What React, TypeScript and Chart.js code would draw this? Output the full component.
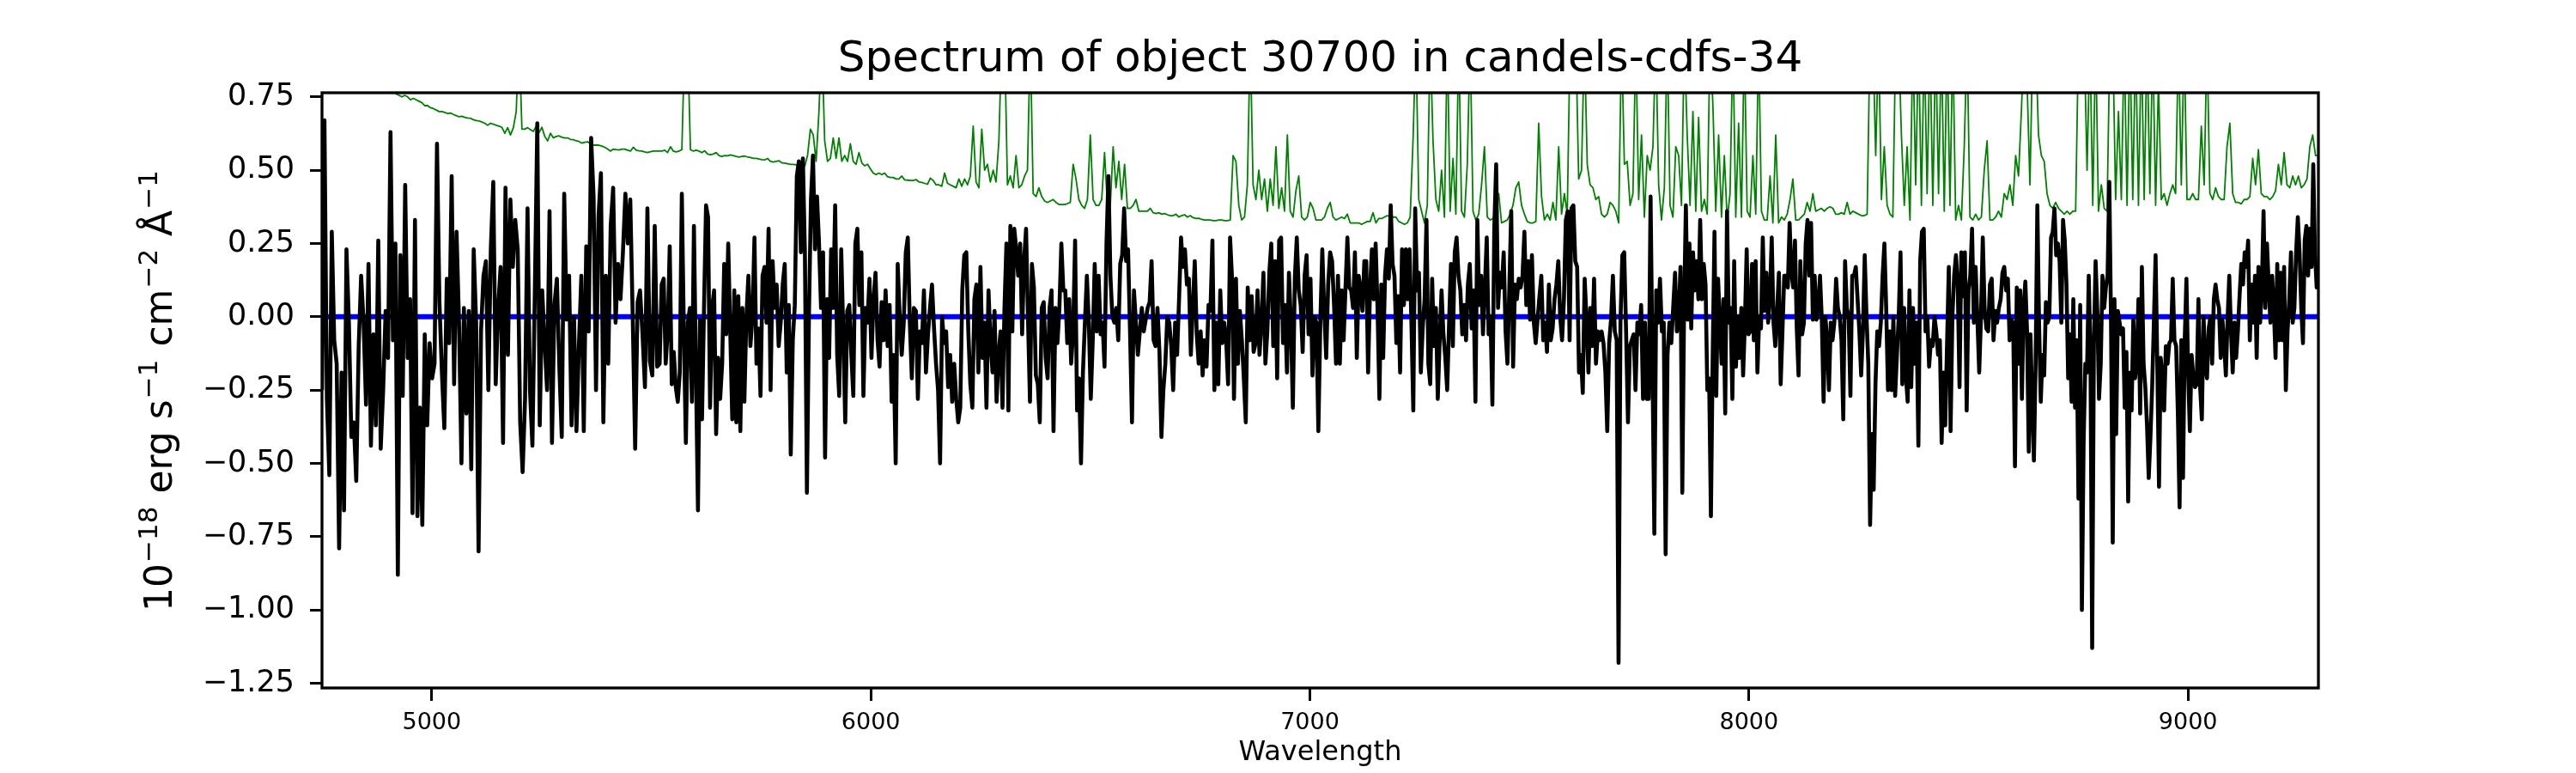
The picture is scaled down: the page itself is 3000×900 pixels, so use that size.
import { useEffect, useRef } from "react";
import { Chart, registerables } from "chart.js";

Chart.register(...registerables);

const TITLE = "Spectrum of object 30700 in candels-cdfs-34";
const X_LABEL = "Wavelength";
const Y_LABEL_PARTS = [
  { text: "10", sup: false },
  { text: "\u221218", sup: true },
  { text: " erg s", sup: false },
  { text: "\u22121", sup: true },
  { text: " cm", sup: false },
  { text: "\u22122", sup: true },
  { text: " \u00c5", sup: false },
  { text: "\u22121", sup: true },
];

const X_MIN = 4750;
const X_MAX = 9297;
const Y_MIN = -1.266;
const Y_MAX = 0.764;
const X_TICKS = [5000, 6000, 7000, 8000, 9000];
const Y_TICKS = [-1.25, -1.0, -0.75, -0.5, -0.25, 0, 0.25, 0.5, 0.75];
const ZERO_LEVEL = 0;

// wavelength edges of the pieces of the flux spectrum (Angstrom)
const FLUX_EDGES = [4750, 5519, 6291, 7064, 7836, 8610, 9297];

const FLUX_A = [
  -0.25, 0.67, -0.28, -0.54, 0.29, -0.08, -0.16, -0.79, -0.19, -0.66,
  0.23, -0.02, -0.41, -0.36, -0.56, -0.10, 0.14, -0.02, -0.30, 0.18,
  -0.44, -0.06, -0.37, 0.26, -0.45, -0.25, 0.02, -0.14, 0.63, -0.08,
  0.25, -0.88, 0.21, -0.27, 0.45, -0.14, 0.06, -0.67, 0.33, -0.68,
  -0.31, -0.71, -0.06, -0.37, -0.09, -0.21, -0.16, 0.59, 0.05, -0.19,
  -0.38, 0.13, -0.09, 0.48, -0.23, 0.29, -0.02, -0.50, 0.03, -0.33,
  0.02, -0.52, 0.23, -0.02, -0.80, -0.05, 0.14, 0.19, -0.25, 0.23,
  0.46, -0.23, 0.03, 0.17, -0.43, 0.44, -0.13, 0.40, 0.17, 0.33,
  0.23, -0.36, -0.53, -0.28, 0.37, -0.25, -0.44, 0.09, 0.66, -0.37,
  0.09, -0.09, -0.25, 0.36, -0.43, 0.04, 0.13, -0.17, -0.41, 0.42,
  -0.01, 0.14, -0.37, 0.00, -0.39, -0.10, 0.14, -0.39, 0.24, -0.05,
  0.61, 0.41, -0.25, 0.34, 0.49, -0.36, 0.14, -0.16, 0.31, 0.44,
  -0.02, 0.18, 0.06, 0.22, 0.42, 0.25, 0.40, 0.00, -0.45, 0.05,
  0.09, -0.06, -0.24, 0.37, -0.15, -0.20, 0.31, -0.17,
];

const FLUX_B = [
  -0.16, 0.11, 0.13, -0.16, -0.05, 0.24, -0.23, -0.12, -0.24, -0.29,
  -0.19, 0.42, -0.05, -0.43, -0.02, 0.03, -0.29, 0.31, -0.19, -0.66,
  -0.01, -0.35, 0.03, 0.38, 0.34, -0.31, 0.03, 0.09, -0.40, -0.14,
  -0.28, -0.16, 0.18, -0.06, 0.25, -0.05, -0.35, 0.09, -0.36, 0.07,
  -0.39, 0.03, -0.29, 0.00, 0.14, -0.10, 0.00, 0.27, -0.16, -0.04,
  -0.27, 0.14, 0.17, -0.02, 0.30, -0.25, 0.19, 0.03, 0.11, -0.10,
  -0.02, 0.11, 0.18, -0.19, 0.04, -0.47, -0.08, 0.04, 0.48, 0.53,
  0.22, 0.54, 0.22, -0.60, 0.00, 0.40, 0.55, 0.23, 0.41, 0.25,
  0.03, 0.22, -0.48, 0.06, -0.14, 0.23, 0.03, 0.38, -0.13, -0.27,
  0.23, -0.05, -0.36, 0.02, 0.04, -0.13, -0.27, 0.25, 0.30, 0.04,
  0.22, -0.27, 0.03, -0.02, 0.13, -0.14, 0.06, 0.15, -0.08, -0.17,
  0.05, -0.08, 0.09, -0.10, 0.04, -0.29, -0.13, -0.50, 0.18, 0.00,
  -0.13, -0.02, 0.22, 0.27, -0.02, -0.21, 0.03, 0.02, -0.28, -0.05,
  -0.09, 0.09, -0.19, -0.06, 0.03, 0.11, -0.04, -0.16, -0.25, -0.50,
  0.00, -0.09, -0.05, -0.24, -0.13, -0.29, -0.16, -0.28, -0.36, -0.31,
  0.09, 0.21, 0.22, -0.05, -0.23, -0.31, 0.06, 0.11, -0.19, 0.17,
  -0.14, -0.02, -0.31, 0.09, -0.09, -0.19, 0.02, -0.29,
];

const FLUX_C = [
  -0.13, -0.05, -0.31, 0.03, 0.25, -0.32, 0.31, -0.05, 0.30, 0.23,
  0.14, 0.25, -0.06, 0.19, 0.30, -0.01, -0.29, 0.18, 0.10, -0.20,
  -0.23, -0.36, 0.03, 0.05, -0.14, -0.21, 0.03, 0.09, -0.39, 0.03,
  -0.09, 0.03, 0.25, 0.09, 0.09, -0.09, 0.06, -0.16, -0.05, 0.26,
  -0.32, -0.21, -0.50, -0.19, -0.02, 0.14, -0.02, -0.28, -0.08, 0.18,
  -0.05, 0.14, -0.06, -0.02, -0.17, 0.25, 0.48, 0.14, 0.00, -0.02,
  0.03, -0.08, 0.18, 0.21, 0.37, 0.19, 0.23, -0.05, -0.36, 0.09,
  -0.02, -0.13, -0.05, 0.03, -0.05, -0.01, 0.03, 0.05, 0.19, -0.08,
  -0.10, 0.03, -0.12, -0.41, -0.25, -0.16, 0.00, -0.02, -0.10, -0.25,
  -0.02, -0.13, 0.06, 0.27, 0.17, 0.23, 0.11, 0.13, -0.13, 0.03,
  0.19, -0.06, -0.16, -0.05, -0.20, -0.08, -0.17, 0.04, 0.02, 0.26,
  -0.25, -0.02, -0.23, 0.09, -0.09, -0.02, -0.08, -0.23, 0.27, 0.13,
  -0.28, 0.13, -0.16, 0.02, -0.08, -0.21, -0.36, 0.10, -0.08, 0.07,
  -0.12, -0.09, 0.09, -0.13, -0.02, 0.15, -0.16, -0.05, 0.15, 0.25,
  -0.10, 0.19, -0.21, 0.26, 0.27, -0.09, 0.04, -0.19, 0.15, -0.02,
  -0.31, 0.13, 0.27, 0.09, 0.04, -0.12, 0.14, 0.21, -0.06, 0.13,
  -0.20, 0.00, -0.02, -0.39, -0.02, 0.23, 0.02, -0.14, 0.11, 0.22,
  0.19, 0.04, -0.16,
];

const FLUX_D = [
  0.14, -0.16, 0.09, -0.08, 0.10, 0.27, 0.10, 0.09, 0.03, 0.22,
  -0.14, 0.14, 0.09, 0.02, 0.19, 0.19, -0.19, 0.09, 0.23, 0.06,
  0.25, 0.03, -0.28, 0.11, -0.14, 0.14, 0.23, 0.13, 0.38, 0.18,
  0.14, -0.09, 0.07, -0.19, 0.23, 0.04, 0.23, 0.06, 0.23, -0.02,
  -0.32, 0.37, 0.09, 0.15, -0.19, -0.04, 0.06, 0.33, -0.16, -0.23,
  0.13, -0.10, 0.03, -0.28, -0.08, 0.09, -0.06, -0.14, -0.25, -0.02,
  0.18, -0.10, 0.22, 0.27, 0.14, 0.09, -0.06, 0.04, -0.08, 0.11,
  0.18, -0.04, 0.09, -0.29, 0.33, 0.04, 0.14, -0.06, 0.10, 0.27,
  -0.06, 0.00, -0.30, 0.30, 0.52, 0.03, 0.15, 0.10, 0.22, -0.05,
  -0.16, 0.10, 0.36, -0.17, 0.11, 0.06, 0.13, 0.10, 0.14, 0.29,
  0.04, 0.19, -0.01, 0.21, -0.02, -0.09, -0.01, 0.07, 0.14, -0.08,
  -0.02, -0.12, 0.11, -0.08, -0.04, 0.06, 0.11, 0.19, 0.00, -0.08,
  0.06, 0.33, 0.36, -0.08, 0.37, 0.38, 0.19, 0.17, -0.19, -0.13,
  -0.26, 0.13, -0.01, -0.19, 0.03, -0.10, 0.13, -0.16, -0.05, -0.08,
  -0.05, -0.09, -0.19, -0.39, -0.09, -0.01, 0.14, -0.05, -0.08, -1.18,
  -0.02, 0.21, 0.22, -0.05, -0.36, -0.10, -0.08, -0.06, -0.25, -0.02,
  -0.06, 0.04, -0.28, -0.02, -0.28, -0.28, 0.41, -0.16, -0.74, 0.09,
  -0.02, 0.13, -0.05, -0.02, -0.81, -0.13, -0.02, -0.09, 0.03, 0.15,
];

const FLUX_E = [
  -0.05, 0.00, 0.17, -0.60, 0.03, 0.38, -0.01, 0.25, -0.04, 0.22,
  0.09, 0.19, 0.06, 0.33, 0.06, 0.18, 0.11, -0.25, -0.21, -0.68,
  -0.13, 0.29, -0.27, 0.13, -0.02, -0.16, 0.06, -0.33, 0.36, -0.02,
  0.03, -0.28, 0.19, -0.17, 0.00, -0.14, 0.03, -0.20, -0.02, 0.23,
  -0.06, -0.05, 0.18, -0.08, 0.19, -0.19, 0.00, -0.04, 0.27, 0.02,
  0.15, -0.02, 0.07, 0.27, -0.02, -0.10, 0.02, 0.15, -0.23, -0.05,
  0.14, 0.14, 0.10, 0.32, 0.15, 0.10, 0.26, -0.04, -0.20, 0.19,
  -0.06, -0.02, 0.25, 0.33, 0.14, 0.32, -0.01, 0.14, -0.01, 0.03,
  0.14, -0.01, -0.29, 0.00, -0.08, -0.25, -0.02, -0.08, -0.02, 0.13,
  0.03, 0.00, -0.08, -0.35, 0.19, 0.03, 0.00, -0.27, 0.14, 0.14,
  0.17, 0.06, -0.05, -0.20, -0.05, 0.21, 0.00, -0.16, -0.71, -0.40,
  -0.59, -0.23, -0.05, -0.10, -0.02, 0.14, 0.25, 0.03, -0.25, -0.05,
  -0.25, 0.00, -0.27, -0.13, 0.00, 0.22, -0.23, 0.03, -0.20, -0.29,
  0.09, -0.24, 0.03, -0.16, -0.02, -0.44, 0.19, 0.29, 0.30, -0.05,
  0.00, -0.17, -0.08, -0.10, 0.00, -0.05, -0.13, -0.08, -0.43, -0.19,
  -0.37, -0.10, 0.17, -0.39, 0.00, 0.14, 0.21, 0.11, -0.24, 0.22,
  0.07, 0.22, -0.32, 0.09, 0.14, 0.30, -0.02, 0.17, -0.01, -0.19,
  0.00, 0.27, 0.03, -0.04, -0.05, 0.11, 0.13, -0.08, 0.02, -0.02,
  0.03, 0.06, 0.15, 0.17, 0.09, 0.13, -0.08, -0.01, -0.02, -0.51,
];

const FLUX_F = [
  0.10, -0.16, 0.09, -0.28, 0.03, 0.12, -0.05, -0.46, -0.06, -0.29,
  -0.49, -0.16, 0.38, -0.02, -0.29, -0.13, -0.20, 0.05, -0.02, 0.00,
  0.27, 0.29, 0.37, 0.21, 0.25, 0.19, -0.02, 0.33, 0.26, 0.11,
  -0.21, -0.06, -0.29, 0.06, -0.31, -0.08, -0.62, 0.04, -1.00, -0.43,
  -0.16, -0.19, 0.14, -0.13, -1.13, -0.09, 0.19, 0.02, -0.28, -0.16,
  0.14, 0.03, 0.10, 0.14, 0.46, -0.02, -0.77, 0.06, -0.40, 0.02,
  -0.02, -0.06, -0.04, -0.31, -0.12, -0.63, -0.19, -0.32, -0.01, -0.21,
  -0.16, 0.06, -0.33, 0.17, -0.16, -0.24, -0.37, -0.55, -0.41, -0.24,
  -0.02, 0.21, -0.16, -0.58, -0.14, -0.21, -0.32, -0.10, -0.16, -0.09,
  -0.08, 0.13, -0.08, -0.10, -0.33, -0.65, -0.08, -0.55, -0.08, 0.13,
  -0.19, -0.39, -0.13, -0.20, -0.24, -0.23, 0.06, -0.24, -0.35, 0.00,
  -0.16, -0.21, -0.04, 0.00, -0.16, 0.06, 0.11, 0.06, 0.03, -0.14,
  -0.01, -0.09, -0.20, -0.01, 0.14, -0.05, -0.19, -0.02, -0.14, -0.05,
  0.07, 0.18, 0.11, 0.22, 0.17, 0.26, -0.08, 0.11, -0.02, 0.14,
  -0.14, 0.17, -0.02, 0.10, 0.36, 0.03, 0.25, 0.11, -0.02, 0.14,
  0.03, -0.14, 0.18, -0.08, 0.15, -0.08, 0.17, -0.25, -0.05, 0.06,
  0.22, -0.02, 0.03, 0.22, 0.34, 0.22, 0.03, -0.09, 0.26, 0.31,
  0.14, 0.30, 0.17, 0.52, 0.22, 0.10, 0.17,
];

// noise / sky spectrum, evenly sampled from X_MIN to X_MAX
const NOISE_A = [
  0.92, 0.91, 0.90, 0.90, 0.89, 0.88, 0.88, 0.87, 0.86, 0.86,
  0.85, 0.84, 0.84, 0.83, 0.83, 0.82, 0.82, 0.81, 0.81, 0.80,
  0.80, 0.79, 0.79, 0.78, 0.78, 0.77,
  0.76, 0.755, 0.75, 0.755, 0.75, 0.74, 0.745, 0.74, 0.735, 0.73,
  0.72, 0.72, 0.713, 0.71, 0.705, 0.70, 0.70, 0.697, 0.693, 0.695,
  0.69, 0.686, 0.682, 0.684, 0.68, 0.678, 0.677, 0.672, 0.669, 0.668,
  0.664, 0.66, 0.653, 0.66, 0.657, 0.653, 0.65, 0.646, 0.626, 0.645,
  0.62, 0.645, 0.70, 0.95, 0.64, 0.64, 0.645, 0.638, 0.632, 0.65,
  0.628, 0.646, 0.615, 0.60, 0.626, 0.61, 0.615, 0.617, 0.612, 0.61,
  0.61, 0.605, 0.604, 0.60, 0.598, 0.592, 0.595, 0.597, 0.59, 0.585,
  0.586, 0.585, 0.582, 0.578, 0.572, 0.565, 0.572, 0.57, 0.569, 0.572,
  0.572, 0.568, 0.565, 0.578, 0.568, 0.566, 0.565, 0.562, 0.56, 0.563,
  0.565, 0.565,
];

const NOISE_B = [
  0.565, 0.565, 0.568, 0.56, 0.58, 0.565, 0.562, 0.565, 0.57, 0.95,
  0.95, 0.57, 0.565, 0.568, 0.565, 0.56, 0.566, 0.555, 0.553, 0.555,
  0.56, 0.55, 0.547, 0.55, 0.549, 0.552, 0.55, 0.547, 0.545, 0.547,
  0.548, 0.545, 0.543, 0.54, 0.54, 0.538, 0.536, 0.535, 0.54, 0.53,
  0.528, 0.53, 0.532, 0.525, 0.524, 0.522, 0.52, 0.52, 0.518, 0.517,
  0.515, 0.513, 0.55, 0.64, 0.62, 0.53, 0.70, 0.95, 0.60, 0.53,
  0.54, 0.61, 0.54, 0.61, 0.53, 0.55, 0.53, 0.59, 0.53, 0.52,
  0.56, 0.525, 0.515, 0.52, 0.505, 0.49, 0.485, 0.49, 0.485, 0.49,
  0.478, 0.475, 0.475, 0.47, 0.47, 0.48, 0.467, 0.466, 0.465, 0.465,
  0.468, 0.46, 0.458, 0.455, 0.452, 0.473, 0.465, 0.45, 0.45, 0.445,
  0.49, 0.455, 0.45, 0.445, 0.44, 0.47, 0.445, 0.47, 0.45, 0.48,
  0.65, 0.46, 0.44, 0.64, 0.50, 0.52, 0.46, 0.50, 0.46,
];

const NOISE_C = [
  0.60, 0.95, 0.95, 0.45, 0.48, 0.44, 0.55, 0.44, 0.45, 0.48,
  0.50, 0.95, 0.42, 0.41, 0.44, 0.41, 0.395, 0.39, 0.395, 0.40,
  0.39, 0.383, 0.383, 0.383, 0.386, 0.39, 0.52, 0.47, 0.40, 0.38,
  0.37, 0.40, 0.62, 0.40, 0.38, 0.38, 0.40, 0.56, 0.38, 0.38,
  0.58, 0.44, 0.53, 0.40, 0.52, 0.37, 0.37, 0.38, 0.40, 0.36,
  0.36, 0.36, 0.36, 0.37, 0.355, 0.352, 0.355, 0.35, 0.352, 0.348,
  0.345, 0.345, 0.35, 0.34, 0.345, 0.348, 0.34, 0.345, 0.338, 0.335,
  0.336, 0.332, 0.33, 0.33, 0.33, 0.328, 0.328, 0.33, 0.33, 0.328,
  0.328, 0.33, 0.55, 0.53, 0.38, 0.33, 0.34, 0.45, 0.95, 0.45,
  0.40, 0.50, 0.40, 0.47, 0.36, 0.47, 0.38, 0.58, 0.37, 0.44,
  0.36, 0.62, 0.36, 0.34, 0.43, 0.48, 0.34, 0.33, 0.34, 0.39,
  0.37, 0.33, 0.33, 0.33, 0.34, 0.37, 0.39, 0.34, 0.33,
];

const NOISE_D = [
  0.335, 0.34, 0.335, 0.35, 0.32, 0.32, 0.32, 0.32, 0.315, 0.32,
  0.325, 0.325, 0.355, 0.32, 0.335, 0.335, 0.34, 0.345, 0.34, 0.34,
  0.34, 0.325, 0.32, 0.315, 0.32, 0.34, 0.60, 0.95, 0.40, 0.36,
  0.32, 0.38, 0.95, 0.60, 0.40, 0.36, 0.50, 0.34, 0.95, 0.36,
  0.54, 0.35, 0.95, 0.36, 0.34, 0.52, 0.95, 0.36, 0.33, 0.35,
  0.45, 0.58, 0.34, 0.33, 0.335, 0.36, 0.42, 0.32, 0.325, 0.33,
  0.35, 0.38, 0.44, 0.46, 0.38, 0.35, 0.325, 0.32, 0.32, 0.325,
  0.66, 0.41, 0.33, 0.35, 0.33, 0.39, 0.33, 0.58, 0.35, 0.42,
  0.35, 0.95, 0.80, 0.95, 0.47, 0.50, 0.95, 0.52, 0.45, 0.44,
  0.40, 0.41, 0.35, 0.34, 0.35, 0.39, 0.38, 0.36, 0.32, 0.95,
  0.52, 0.53, 0.38, 0.42, 0.95, 0.40, 0.62, 0.34, 0.55, 0.50,
  0.58, 0.95, 0.45, 0.33, 0.44, 0.95, 0.38, 0.34, 0.58,
];

const NOISE_E = [
  0.55, 0.38, 0.95, 0.62, 0.38, 0.70, 0.36, 0.68, 0.36, 0.40,
  0.35, 0.95, 0.72, 0.36, 0.62, 0.34, 0.55, 0.33, 0.42, 0.95,
  0.34, 0.66, 0.34, 0.95, 0.36, 0.34, 0.55, 0.35, 0.95, 0.36,
  0.33, 0.33, 0.48, 0.32, 0.62, 0.32, 0.34, 0.33, 0.35, 0.40,
  0.47, 0.33, 0.33, 0.34, 0.35, 0.39, 0.36, 0.42, 0.36, 0.365,
  0.37, 0.36, 0.37, 0.375, 0.37, 0.35, 0.35, 0.355, 0.35, 0.39,
  0.35, 0.36, 0.355, 0.35, 0.345, 0.345, 0.35, 0.95, 0.95, 0.55,
  0.95, 0.40, 0.58, 0.38, 0.35, 0.34, 0.95, 0.95, 0.62, 0.38,
  0.58, 0.33, 0.95, 0.45, 0.95, 0.38, 0.95, 0.42, 0.95, 0.38,
  0.95, 0.42, 0.95, 0.36, 0.95, 0.38, 0.95, 0.33, 0.38, 0.33,
  0.58, 0.95, 0.34, 0.33, 0.35, 0.33, 0.34, 0.50, 0.60, 0.33,
  0.33, 0.34, 0.36, 0.34, 0.42, 0.40, 0.45, 0.38, 0.55,
];

const NOISE_F = [
  0.48, 0.70, 0.95, 0.80, 0.45, 0.95, 0.95, 0.62, 0.55, 0.53,
  0.42, 0.38, 0.37, 0.39, 0.37, 0.36, 0.35, 0.36, 0.35, 0.36,
  0.36, 0.95, 0.95, 0.95, 0.50, 0.95, 0.38, 0.95, 0.36, 0.45,
  0.37, 0.36, 0.95, 0.95, 0.40, 0.70, 0.40, 0.95, 0.38, 0.95,
  0.40, 0.95, 0.38, 0.95, 0.40, 0.95, 0.42, 0.95, 0.38, 0.80,
  0.40, 0.42, 0.38, 0.42, 0.45, 0.42, 0.95, 0.45, 0.95, 0.40,
  0.40, 0.42, 0.40, 0.40, 0.65, 0.45, 0.95, 0.42, 0.40, 0.44,
  0.41, 0.40, 0.40, 0.58, 0.66, 0.42, 0.39, 0.39, 0.385, 0.40,
  0.40, 0.41, 0.54, 0.45, 0.57, 0.42, 0.41, 0.41, 0.40, 0.41,
  0.43, 0.52, 0.45, 0.56, 0.45, 0.44, 0.48, 0.45, 0.48, 0.44,
  0.45, 0.47, 0.58, 0.62, 0.55, 0.55,
];

const FONT = "'DejaVu Sans', 'Liberation Sans', sans-serif";

type Pt = { x: number; y: number };

function buildFlux(): Pt[] {
  const segs = [FLUX_A, FLUX_B, FLUX_C, FLUX_D, FLUX_E, FLUX_F];
  const pts: Pt[] = [];
  segs.forEach((seg, i) => {
    const lo = FLUX_EDGES[i];
    const hi = FLUX_EDGES[i + 1];
    const last = i === segs.length - 1;
    const step = (hi - lo) / (last ? seg.length - 1 : seg.length);
    seg.forEach((v, j) => pts.push({ x: lo + j * step, y: v }));
  });
  return pts;
}

function buildNoise(): Pt[] {
  const vals = [...NOISE_A, ...NOISE_B, ...NOISE_C, ...NOISE_D, ...NOISE_E, ...NOISE_F];
  const step = (X_MAX - X_MIN) / (vals.length - 1);
  return vals.map((v, j) => ({ x: X_MIN + j * step, y: v }));
}

const decorPlugin = {
  id: "decor",
  afterDraw(chart: any) {
    const { ctx, chartArea: a } = chart;
    ctx.save();
    // frame (all four spines)
    ctx.strokeStyle = "#000";
    ctx.lineWidth = 3.3;
    ctx.strokeRect(a.left, a.top, a.right - a.left, a.bottom - a.top);
    ctx.fillStyle = "#000";
    const cx = (a.left + a.right) / 2;
    // title
    ctx.font = `50px ${FONT}`;
    ctx.textAlign = "center";
    ctx.textBaseline = "alphabetic";
    ctx.fillText(TITLE, cx, a.top - 25);
    // x label
    ctx.font = `32px ${FONT}`;
    ctx.fillText(X_LABEL, cx, 885);
    // y label with superscripts
    const main = 44;
    const sup = 31;
    let total = 0;
    const widths = Y_LABEL_PARTS.map((p) => {
      ctx.font = `${p.sup ? sup : main}px ${FONT}`;
      const w = ctx.measureText(p.text).width + (p.sup ? 2 : 0);
      total += w;
      return w;
    });
    const cy = (a.top + a.bottom) / 2;
    ctx.translate(200, cy);
    ctx.rotate(-Math.PI / 2);
    ctx.textAlign = "left";
    let x = -total / 2;
    Y_LABEL_PARTS.forEach((p, i) => {
      ctx.font = `${p.sup ? sup : main}px ${FONT}`;
      ctx.fillText(p.text, x + (p.sup ? 1 : 0), p.sup ? -17 : 0);
      x += widths[i];
    });
    ctx.restore();
  },
};

export default function App() {
  const ref = useRef<HTMLCanvasElement | null>(null);

  useEffect(() => {
    const canvas = ref.current;
    if (!canvas) return;
    const flux = buildFlux();
    const noise = buildNoise();
    const zero = [
      { x: flux[0].x, y: ZERO_LEVEL },
      { x: flux[flux.length - 1].x, y: ZERO_LEVEL },
    ];
    const chart = new Chart(canvas, {
      type: "scatter",
      data: {
        datasets: [
          {
            data: flux,
            showLine: true,
            borderColor: "#000000",
            borderWidth: 4.6,
            borderJoinStyle: "round",
            borderCapStyle: "butt",
            pointRadius: 0,
            tension: 0,
            clip: 0,
          } as any,
          {
            data: noise,
            showLine: true,
            borderColor: "#008000",
            borderWidth: 1.8,
            borderJoinStyle: "round",
            pointRadius: 0,
            tension: 0,
            clip: 0,
          } as any,
          {
            data: zero,
            showLine: true,
            borderColor: "#0000ff",
            borderWidth: 6,
            pointRadius: 0,
            tension: 0,
            clip: 0,
          } as any,
        ],
      },
      options: {
        animation: false,
        responsive: true,
        maintainAspectRatio: false,
        events: [],
        layout: { padding: { left: 0, right: 300, top: 108, bottom: 0 } },
        plugins: {
          legend: { display: false },
          tooltip: { enabled: false },
          title: { display: false },
        },
        scales: {
          x: {
            type: "linear",
            min: X_MIN,
            max: X_MAX,
            afterBuildTicks: (s: any) => {
              s.ticks = X_TICKS.map((v) => ({ value: v }));
            },
            afterFit: (s: any) => {
              s.height = 99;
            },
            ticks: {
              autoSkip: false,
              maxRotation: 0,
              padding: 10,
              color: "#000",
              font: { family: FONT, size: 27 },
              callback: (v: any) => String(v),
            },
            grid: {
              display: true,
              drawOnChartArea: false,
              drawTicks: true,
              tickLength: 15,
              tickWidth: 3,
              tickColor: "#000",
            },
            border: { display: false },
          },
          y: {
            type: "linear",
            min: Y_MIN,
            max: Y_MAX,
            afterBuildTicks: (s: any) => {
              s.ticks = Y_TICKS.map((v) => ({ value: v }));
            },
            afterFit: (s: any) => {
              s.width = 375;
            },
            ticks: {
              autoSkip: false,
              padding: 18,
              color: "#000",
              font: { family: FONT, size: 35 },
              callback: (v: any) => Number(v).toFixed(2).replace("-", "\u2212"),
            },
            grid: {
              display: true,
              drawOnChartArea: false,
              drawTicks: true,
              tickLength: 14,
              tickWidth: 3,
              tickColor: "#000",
            },
            border: { display: false },
          },
        },
      } as any,
      plugins: [decorPlugin],
    });
    return () => chart.destroy();
  }, []);

  return (
    <div
      style={{
        position: "absolute",
        left: 0,
        top: 0,
        width: 3000,
        height: 900,
        background: "#ffffff",
      }}
    >
      <canvas ref={ref} />
    </div>
  );
}
